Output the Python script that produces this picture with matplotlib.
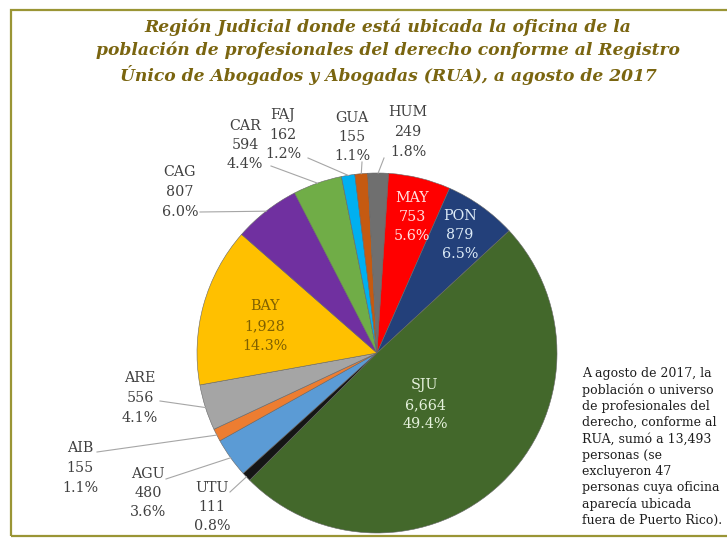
import numpy as np
import matplotlib.pyplot as plt
from matplotlib.patches import Rectangle

regions = ['AGU', 'AIB', 'ARE', 'BAY', 'CAG', 'CAR', 'FAJ', 'GUA', 'HUM', 'MAY', 'PON', 'SJU', 'UTU']
counts = [480, 155, 556, 1928, 807, 594, 162, 155, 249, 753, 879, 6664, 111]
colors = ['#5B9BD5', '#ED7D31', '#A5A5A5', '#FFC000', '#7030A0', '#70AD47', '#00B0F0',
          '#C55A11', '#6F6F6F', '#FF0000', '#23407A', '#43682B', '#151515']

title = ("Región Judicial donde está ubicada la oficina de la\n"
         "población de profesionales del derecho conforme al Registro\n"
         "Único de Abogados y Abogadas (RUA), a agosto de 2017")
note = ("A agosto de 2017, la\npoblación o universo\nde profesionales del\n"
        "derecho, conforme al\nRUA, sumó a 13,493\npersonas (se\nexcluyeron 47\n"
        "personas cuya oficina\naparecía ubicada\nfuera de Puerto Rico).")

W, H = 727, 538

def px(x, y):
    # pixel coords (top-left origin) -> axes data coords
    return x, H - y

# label layout in pixels: text centre, leader start (None = inside label)
label_pos = {
    'AGU': ((148, 493), (166, 479)),
    'AIB': ((80, 468), (97, 452)),
    'ARE': ((140, 398), (160, 401)),
    'BAY': ((265, 326), None),
    'CAG': ((180, 192), (200, 212)),
    'CAR': ((245, 145), (271, 166)),
    'FAJ': ((283, 135), (308, 158)),
    'GUA': ((352, 137), (362, 162)),
    'HUM': ((408, 132), (384, 158)),
    'MAY': ((412, 217), None),
    'PON': ((460, 235), None),
    'SJU': ((425, 405), None),
    'UTU': ((212, 507), (230, 492)),
}
text_colors = {'BAY': '#7F6000', 'MAY': '#FFE1E1', 'PON': '#DDEBF7', 'SJU': '#E6F2DD'}

fig = plt.figure(figsize=(W / 100, H / 100), dpi=100)
ax = fig.add_axes([0, 0, 1, 1])

cx, cy = px(377, 353)
R = 180
wedges, _ = ax.pie(counts, colors=colors, startangle=222, counterclock=False,
                   center=(cx, cy), radius=R,
                   wedgeprops=dict(linewidth=0.4, edgecolor='#666666'))
ax.set_xlim(0, W)
ax.set_ylim(0, H)
ax.set_aspect('equal')
ax.axis('off')

# frame (right side runs off the image)
ax.add_patch(Rectangle(px(11, 536), W + 30, 526, fill=False, edgecolor='#9A9535', linewidth=1.6))

total = sum(counts)
for w, name, val in zip(wedges, regions, counts):
    txt = f"{name}\n{val:,}\n{val / total * 100:.1f}%"
    (tx, ty), lead = label_pos[name]
    ax.text(*px(tx, ty), txt, ha='center', va='center', fontsize=10.3,
            family='DejaVu Serif', linespacing=1.5,
            color=text_colors.get(name, '#404040'))
    if lead is not None:
        mid = np.deg2rad((w.theta1 + w.theta2) / 2)
        ex, ey = cx + R * np.cos(mid), cy + R * np.sin(mid)
        sx, sy = px(*lead)
        ax.plot([sx, ex], [sy, ey], color='#A6A6A6', linewidth=0.8)

ax.text(*px(388, 52), title, ha='center', va='center', fontsize=12.3,
        family='DejaVu Serif', style='italic', fontweight='bold',
        color='#7A6510', linespacing=1.4)

ax.text(*px(582, 447), note, ha='left', va='center', fontsize=9.0,
        family='DejaVu Serif', color='#1E1E1E', linespacing=1.32)

fig.savefig('out.png', dpi=100)
